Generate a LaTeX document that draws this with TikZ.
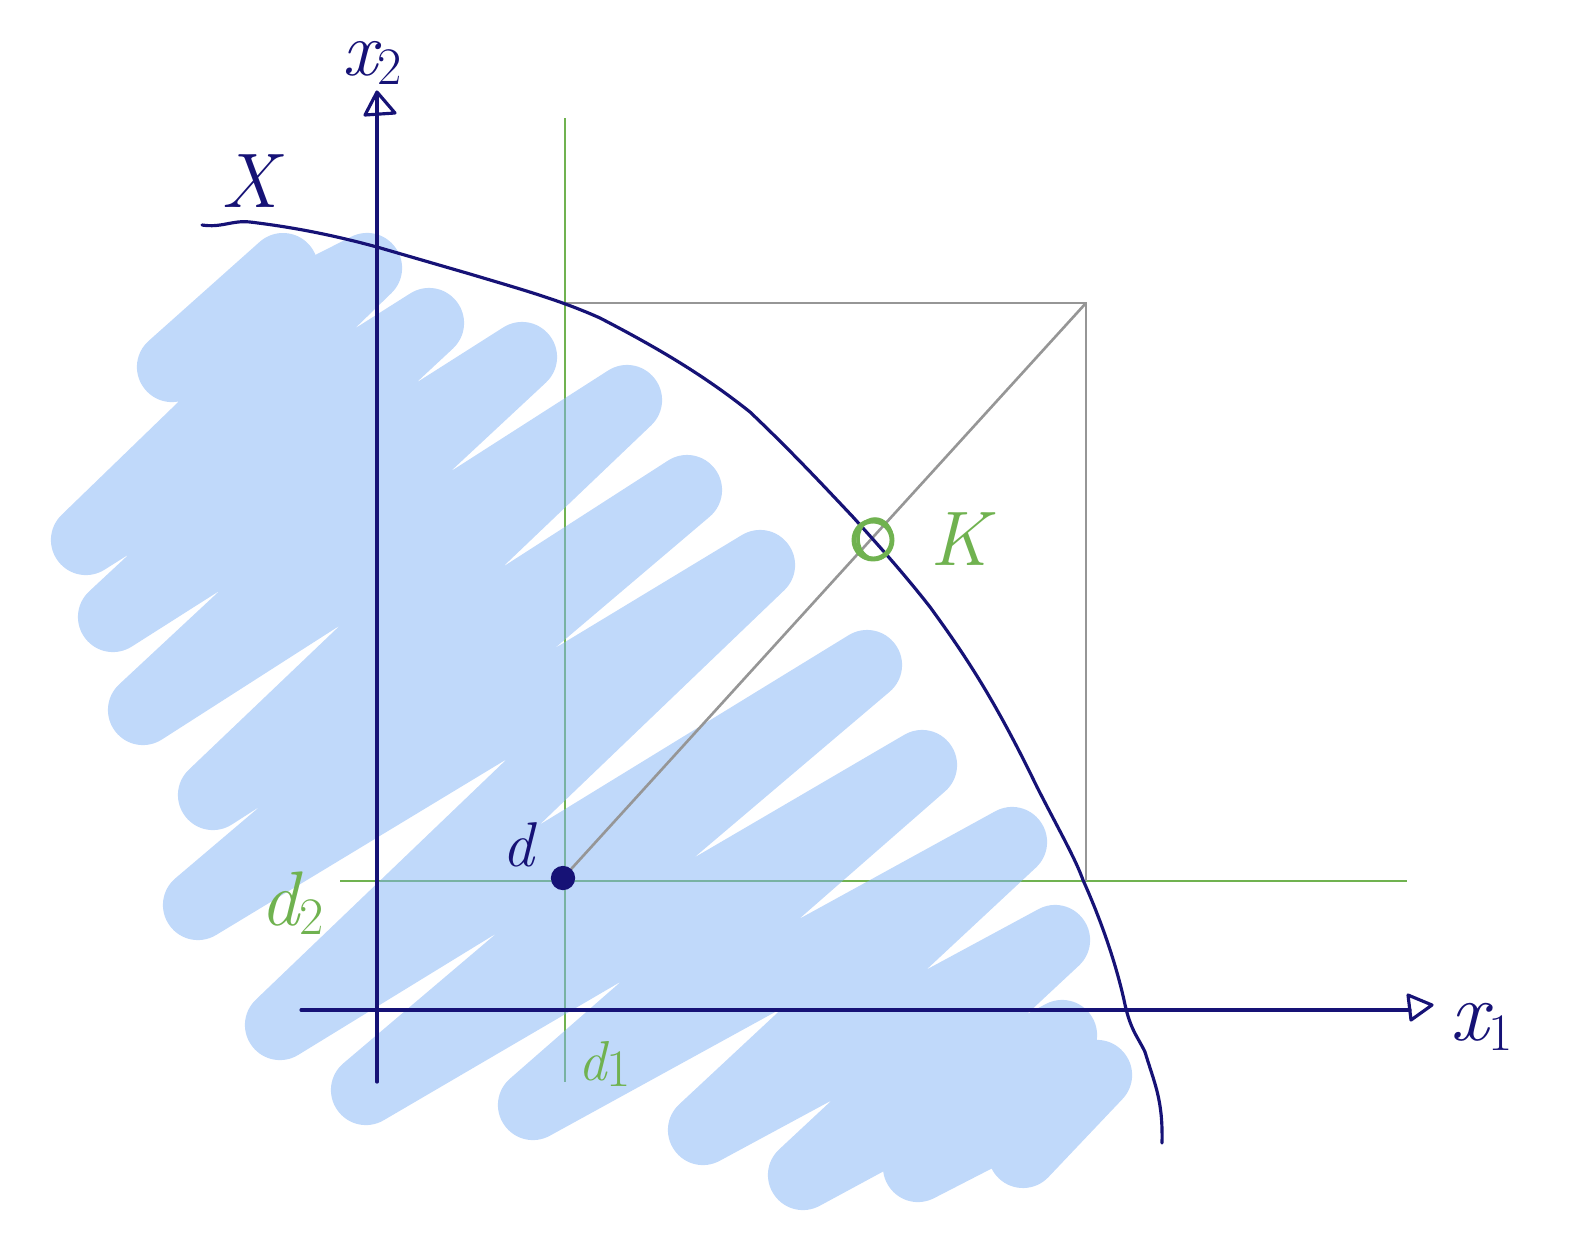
\documentclass[tikz,border=0pt]{standalone}
\usetikzlibrary{calc}
\definecolor{navy}{RGB}{22,18,118}
\definecolor{pgreen}{RGB}{112,178,80}
\definecolor{pgray}{RGB}{150,150,150}
\definecolor{pblue}{RGB}{129,179,245}
\newcommand{\subs}[1]{\raisebox{-0.12em}{\fontsize{15}{18}\selectfont\upshape #1}}
\tikzset{
  scribble/.style={line width=0.7cm, pblue, line cap=round, line join=round},
  navyline/.style={navy, line width=0.9pt, line cap=round, line join=round},
  greenline/.style={pgreen, line width=0.75pt},
  grayline/.style={pgray, line width=0.75pt},
  navylabel/.style={text=navy, anchor=base, inner sep=0pt, font=\fontsize{22}{26}\selectfont\itshape},
  greenlabel/.style={text=pgreen, anchor=base, inner sep=0pt, font=\fontsize{22}{26}\selectfont\itshape}
}
\begin{document}
\begin{tikzpicture}[x=0.01cm, y=-0.01cm]
\useasboundingbox (0,0) rectangle (1570,1245);
% green guide lines
\draw[greenline] (565,118) -- (565,1082);
\draw[greenline] (340,881) -- (1407,881);
% blue scribble
\begin{scope}[transparency group, opacity=0.5]
\draw[scribble] (283,268) -- (172,367) -- (367,268) -- (86,540) -- (429,323) -- (113,617)
  -- (522,357) -- (143,710) -- (627,400) -- (213,795) -- (687,490) -- (198,905)
  -- (760,565) -- (280,1025) -- (867,665) -- (366,1090) -- (922,765) -- (533,1105)
  -- (1012,842) -- (703,1130) -- (1055,940) -- (803,1175) -- (1062,1035) -- (918,1167)
  -- (1097,1075) -- (1023,1153);
\end{scope}
% gray box and diagonal
\coordinate (d) at (563,878);
\coordinate (tl) at (565,303);
\coordinate (tr) at (1086,303);
\coordinate (br) at (1086,881);
\draw[grayline] (tl) -- (tr) -- (br);
\draw[grayline] (d) -- (tr);
% axes
\draw[navyline] (377,1082) -- (377,95);
\draw[navyline] (377,92) -- (365,115) -- (395,113) -- cycle;
\draw[navyline] (301,1010) -- (1410,1010);
\draw[navyline] (1408,995) -- (1432,1005) -- (1411,1020) -- cycle;
% curve X
\draw[navyline] (202,225) .. controls (222,228) and (232,220) .. (250,222)
  .. controls (300,228) and (340,237) .. (377,247)
  -- (470,274) .. controls (520,289) and (560,300) .. (600,318)
  .. controls (650,344) and (700,372) .. (750,412)
  .. controls (790,450) and (820,482) .. (853,517)
  .. controls (880,547) and (905,575) .. (930,607)
  .. controls (965,655) and (995,700) .. (1037,787)
  .. controls (1060,832) and (1075,858) .. (1083,880)
  .. controls (1100,918) and (1115,960) .. (1124,1000)
  .. controls (1130,1030) and (1138,1037) .. (1145,1052)
  .. controls (1155,1085) and (1163,1100) .. (1162,1143);
% point d
\fill[navy] (d) circle (0.09cm);
\draw[navy, line width=1.2pt] (d) circle (0.1cm);
% point K
\coordinate (k) at (873,540);
\draw[pgreen, line width=1.4pt] (k) circle (0.19cm);
\draw[pgreen, line width=1.0pt] ($(k)+(2,-1)$) ellipse (0.17cm and 0.2cm);
% labels
\node[navylabel] (lx2) at (372,75) {x\subs{2}};
\node[navylabel, font=\fontsize{24}{28}\selectfont\itshape] (lx1) at (1482,1040) {x\subs{1}};
\node[navylabel] (lX) at (250,207) {X};
\node[navylabel, font=\fontsize{18}{22}\selectfont\itshape] (ld) at (518,866) {d};
\node[greenlabel] (ld2) at (292,925) {d\subs{2}};
\node[greenlabel, font=\fontsize{16}{20}\selectfont\itshape] (ld1) at (605,1080) {d\subs{1}};
\node[greenlabel] (lK) at (960,565) {K};
\end{tikzpicture}
\end{document}
